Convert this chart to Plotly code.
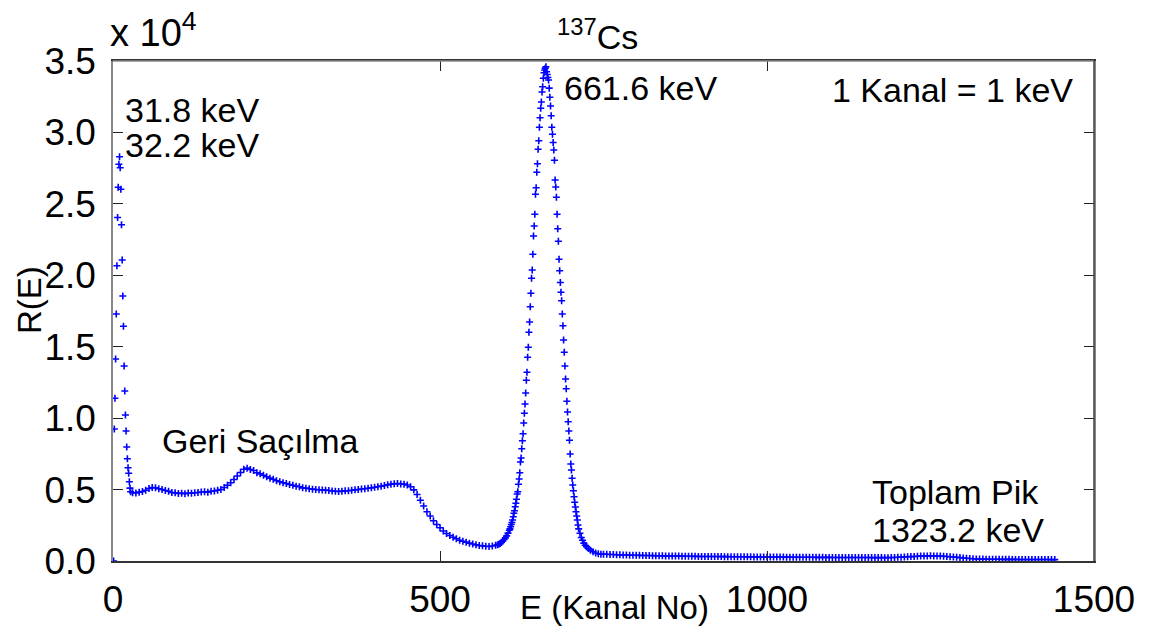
import plotly.graph_objects as go

# ---------------- data ----------------
# X-ray peak region, channels 1..27
xray_channels = list(range(1, 28))
xray_counts = [0, 9240, 11390, 14140, 17290, 20670, 24040, 26160, 27770, 28300,
               27530, 26020, 23540, 21070, 18550, 16430, 13650, 11900, 10220, 9100,
               7980, 7160, 6530, 6140, 5550, 5100, 4850]

# Compton continuum / backscatter region, channels 30..585 (every 5th channel)
compton_channels = list(range(30, 590, 5))
compton_counts = [4780, 4760, 4820, 4860, 4950, 5080, 5150, 5120, 5060, 5000,
                  4930, 4880, 4800, 4770, 4720, 4750, 4710, 4760, 4740, 4780,
                  4800, 4830, 4850, 4820, 4880, 4900, 4950, 5000, 5150, 5300,
                  5480, 5700, 5950, 6200, 6420, 6500, 6400, 6330, 6180, 6100,
                  6000, 5900, 5800, 5720, 5620, 5550, 5480, 5420, 5350, 5300,
                  5240, 5200, 5120, 5100, 5060, 5030, 5000, 4990, 4970, 4960,
                  4930, 4900, 4880, 4870, 4890, 4910, 4920, 4950, 4980, 5000,
                  5040, 5060, 5090, 5120, 5160, 5200, 5240, 5290, 5330, 5380,
                  5400, 5420, 5390, 5380, 5320, 5200, 4980, 4650, 4250, 3850,
                  3450, 3150, 2820, 2560, 2330, 2100, 1920, 1780, 1660, 1560,
                  1450, 1380, 1320, 1250, 1190, 1130, 1090, 1060, 1030, 1020,
                  1050, 1100]

# 137Cs photopeak region
peak_channels = [588, 590, 592, 594, 596, 598, 600, 602, 604, 606,
                 607, 608, 609, 610, 611, 612, 613, 614, 615, 616,
                 617, 618, 619, 620, 621, 622, 623, 624, 625, 626,
                 627, 628, 629, 630, 631, 632, 633, 634, 635, 636,
                 637, 638, 639, 640, 641, 642, 643, 644, 645, 646,
                 647, 648, 649, 650, 651, 652, 653, 654, 655, 656,
                 657, 658, 659, 660, 661, 662, 663, 664, 665, 666,
                 667, 668, 669, 670, 671, 672, 673, 674, 675, 676,
                 677, 678, 679, 680, 681, 682, 683, 684, 685, 686,
                 687, 688, 689, 690, 691, 692, 693, 694, 695, 696,
                 697, 698, 699, 700, 701, 702, 703, 704, 705, 706,
                 707, 708, 709, 710, 711, 712, 714, 716, 718, 720,
                 722, 724, 727, 730, 734, 738, 742, 746]
peak_counts = [1130, 1170, 1230, 1300, 1400, 1500, 1620, 1760, 1950, 2150,
               2250, 2400, 2550, 2700, 2870, 3100, 3340, 3520, 3800, 4040,
               4320, 4690, 4850, 5370, 5740, 6180, 6930, 7210, 7860, 8420,
               8910, 9660, 10340, 10990, 11760, 12650, 13210, 14260, 14960, 16010,
               16730, 17800, 18740, 19790, 20370, 21470, 22750, 23450, 24270, 25670,
               26130, 27210, 27810, 28820, 29420, 30360, 31030, 31690, 32130, 32830,
               33200, 33790, 34180, 34370, 34500, 34600, 34250, 34050, 33850, 33670,
               33100, 32460, 31850, 31170, 30360, 29870, 29300, 28770, 28050, 26670,
               26180, 25460, 24270, 23260, 22380, 21120, 20320, 19500, 18810, 18220,
               17290, 16470, 15470, 14610, 13650, 12740, 12060, 11180, 10430, 9750,
               9100, 8450, 7490, 6790, 6370, 5790, 5320, 4920, 4500, 4110,
               3780, 3450, 3150, 2870, 2520, 2250, 1940, 1650, 1450, 1250,
               1100, 1000, 870, 760, 650, 560, 510, 470]

# high-energy tail incl. sum peak, channels 750..1440 (every 5th channel)
tail_channels = list(range(750, 1445, 5))
tail_counts = [480, 470, 460, 450, 440, 430, 425, 420, 410, 405, 400,
               395, 390, 385, 380, 375, 370, 368, 362, 358, 355,
               350, 346, 342, 338, 335, 332, 328, 325, 322, 320,
               318, 316, 314, 312, 310, 308, 306, 304, 302, 300,
               298, 296, 294, 292, 290, 288, 286, 284, 282, 280,
               278, 276, 275, 273, 272, 270, 268, 267, 265, 264,
               262, 261, 260, 258, 257, 256, 255, 253, 252, 250,
               249, 248, 247, 246, 245, 244, 243, 242, 241, 240,
               240, 239, 238, 238, 237, 236, 235,
               240, 248, 258, 270, 282, 295, 308, 320, 332, 342,
               350, 356, 360, 358, 352, 342, 330, 315, 298, 280,
               260, 238, 215,
               190, 170, 155, 145, 138, 132, 128, 125, 122, 120,
               118, 116, 115, 114, 112, 111, 110, 108, 107, 106,
               105, 104, 103, 102, 101, 100, 99, 98]

x_tick_vals = [0, 500, 1000, 1500]
x_tick_text = ["0", "500", "1000", "1500"]
y_tick_vals = [0, 5000, 10000, 15000, 20000, 25000, 30000, 35000]
y_tick_text = ["0.0", "0.5", "1.0", "1.5", "2.0", "2.5", "3.0", "3.5"]

channels = xray_channels + compton_channels + peak_channels + tail_channels
counts = xray_counts + compton_counts + peak_counts + tail_counts

# ---------------- figure ----------------
FONT = "Liberation Sans, Arial, sans-serif"
BLUE = "#0000FF"

fig = go.Figure()
fig.add_trace(go.Scatter(
    x=channels, y=counts, mode="markers",
    marker=dict(symbol="cross-thin", size=5, color=BLUE,
                line=dict(width=1.6, color=BLUE)),
    showlegend=False, hoverinfo="x+y",
))

fig.update_layout(
    width=1154, height=637,
    margin=dict(l=113, r=60, t=61, b=76, pad=0),
    paper_bgcolor="white", plot_bgcolor="white",
    font=dict(family=FONT, color="black"),
    xaxis=dict(range=[0, 1500], tickvals=x_tick_vals, ticktext=x_tick_text,
               ticks="inside", ticklen=10, tickwidth=1, tickcolor="#222",
               mirror="ticks", showline=True, linecolor="#333", linewidth=1.5,
               showgrid=False, zeroline=False,
               tickfont=dict(size=37, family=FONT), ticklabelstandoff=5),
    yaxis=dict(range=[0, 35000], tickvals=y_tick_vals, ticktext=y_tick_text,
               ticks="inside", ticklen=10, tickwidth=1, tickcolor="#222",
               mirror="ticks", showline=True, linecolor="#888", linewidth=1.5,
               showgrid=False, zeroline=False,
               tickfont=dict(size=37, family=FONT), ticklabelstandoff=8),
    shapes=[
        # top frame edge lighter grey, right edge darker, as in the reference
        dict(type="line", xref="paper", yref="paper", x0=0, x1=1, y0=1, y1=1,
             line=dict(color="#8a8a8a", width=1.5), layer="above"),
        dict(type="line", xref="paper", yref="paper", x0=1, x1=1, y0=0, y1=1,
             line=dict(color="#444", width=1.5), layer="above"),
    ],
)

ann_font = dict(size=34, family=FONT, color="black")

def add_text(text, x, y, xanchor="left", yanchor="middle", xref="x", yref="y",
             font=ann_font, angle=0):
    fig.add_annotation(text=text, x=x, y=y, xref=xref, yref=yref,
                       xanchor=xanchor, yanchor=yanchor, showarrow=False,
                       font=font, textangle=angle)

# axis titles
add_text("E (Kanal No)", x=(614 - 113) / 981, y=-(607 - 561) / 500,
         xanchor="center", xref="paper", yref="paper",
         font=dict(size=33, family=FONT, color="black"))
add_text("R(E)", x=-(113 - 29) / 981, y=(561 - 300) / 500,
         xanchor="center", xref="paper", yref="paper",
         font=dict(size=33, family=FONT, color="black"), angle=-90)

# exponent label
add_text("x 10<sup>4</sup>", x=(108 - 113) / 981, y=(561 - 56) / 500,
         xanchor="left", yanchor="bottom", xref="paper", yref="paper",
         font=dict(size=38, family=FONT, color="black"))
# isotope label
add_text("<sup>137</sup>Cs", x=(597 - 113) / 981, y=(561 - 58) / 500,
         xanchor="center", yanchor="bottom", xref="paper", yref="paper",
         font=dict(size=34, family=FONT, color="black"))

add_text("661.6 keV", x=686, y=33110)
add_text("1 Kanal = 1 keV", x=1471, y=32970, xanchor="right")
add_text("31.8 keV", x=15, y=31570)
add_text("32.2 keV", x=15, y=29120)
add_text("Geri Saçılma", x=72, y=8400)
add_text("Toplam Pik", x=1157, y=4830)
add_text("1323.2 keV", x=1157, y=2170)

fig.write_html("out.html")
